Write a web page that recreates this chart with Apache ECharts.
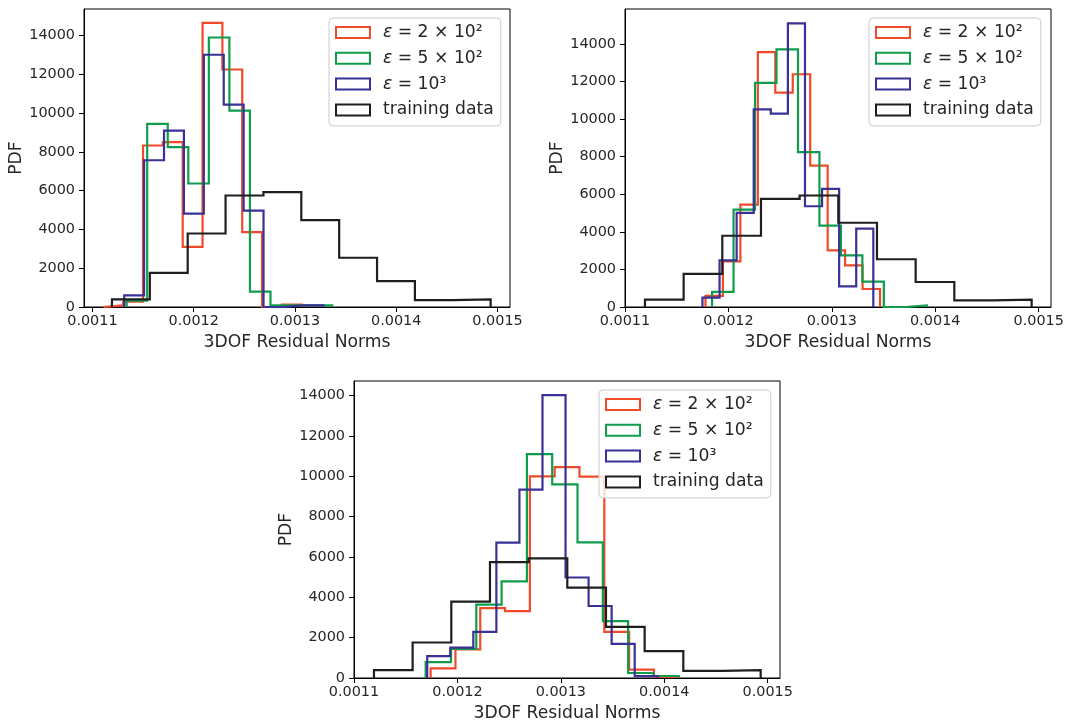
<!doctype html>
<html lang="en">
<head>
<meta charset="utf-8">
<title>3DOF Residual Norms</title>
<style>
  html, body { margin: 0; padding: 0; background: #fff; }
  #chart { width: 1072px; height: 723px; }
</style>
</head>
<body>
<div id="chart"></div>
<script src="https://cdn.jsdelivr.net/npm/echarts@6/dist/echarts.min.js"></script>
<script>
// series names / legend labels / colours
var seriesNames = ['eps200', 'eps500', 'eps1000', 'training data'];
var legendLabels = ['{e|ε} = 2 × 10²', '{e|ε} = 5 × 10²', '{e|ε} = 10³', 'training data'];
var colors = ['#f04a2a', '#0f9d4c', '#3a3196', '#1e1e1e'];

// training data histogram (same in all three panels)
var trainRange = [0.0011193, 0.0014932];
var trainCounts = [390, 1760, 3790, 5750, 5930, 4480, 2540, 1330, 355, 390];

// top-left panel: bin range and counts per epsilon
var tlRanges = [[0.0011108, 0.0013067], [0.0011338, 0.0013367], [0.0011314, 0.0013279]];
var tlRed = [80, 270, 8330, 8500, 3100, 14650, 12250, 3860, 0, 130];
var tlGreen = [330, 9450, 8250, 6370, 13900, 10130, 790, 80, 80, 80];
var tlBlue = [600, 7570, 9100, 4815, 13010, 10435, 4970, 0, 80, 80];

// top-right panel
var trRanges = [[0.0011778, 0.0013466], [0.0011842, 0.0013918], [0.0011749, 0.0013401]];
var trRed = [590, 2430, 5450, 13560, 11400, 12380, 7520, 3017, 2218, 958];
var trGreen = [800, 5180, 11925, 13700, 8234, 4330, 2751, 1349, 0, 85];
var trBlue = [500, 2485, 5005, 10506, 10290, 15084, 5359, 6282, 1100, 4170];

// bottom panel
var btRanges = [[0.0011741, 0.0014140], [0.0011693, 0.0014140], [0.0011708, 0.0013937]];
var btRed = [480, 1420, 3470, 3320, 10000, 10460, 9990, 2290, 420, 60];
var btGreen = [789, 1447, 3635, 4795, 11102, 9600, 6727, 2820, 247, 99];
var btBlue = [1080, 1510, 2290, 6711, 9342, 14030, 4984, 3570, 1694, 90];

// axis ticks and limits
var xTicks = [0.0011, 0.0012, 0.0013, 0.0014, 0.0015];
var yTicks = [0, 2000, 4000, 6000, 8000, 10000, 12000, 14000];
var xLimits = [[0.0010917, 0.0015123], [0.0011, 0.0015119], [0.0011, 0.0015119]];
var yMax = [15370, 15850, 14730];

var FONT = 'DejaVu Sans';
var TXT = '#262626';

// step outline of a histogram (like histtype='step')
function steps(range, counts) {
    var n = counts.length;
    var w = (range[1] - range[0]) / n;
    var pts = [[range[0], 0]];
    for (var i = 0; i < n; i++) {
        var x0 = range[0] + i * w;
        pts.push([x0, counts[i]]);
        pts.push([x0 + w, counts[i]]);
    }
    pts.push([range[1], 0]);
    return pts;
}

var panels = [
    { grid: { left: 84, top: 9, width: 426, height: 298 }, legend: { left: 329, top: 18 },
      ranges: tlRanges, counts: [tlRed, tlGreen, tlBlue] },
    { grid: { left: 625, top: 9, width: 426, height: 298 }, legend: { left: 869, top: 18 },
      ranges: trRanges, counts: [trRed, trGreen, trBlue] },
    { grid: { left: 354, top: 381, width: 426, height: 298 }, legend: { left: 599, top: 390 },
      ranges: btRanges, counts: [btRed, btGreen, btBlue] }
];

var grids = [], xAxes = [], yAxes = [], legends = [], series = [];

panels.forEach(function (p, k) {
    grids.push(Object.assign({ show: true, borderColor: '#000', borderWidth: 1, backgroundColor: '#fff' }, p.grid));
    xAxes.push({
        gridIndex: k, type: 'value', min: xLimits[k][0], max: xLimits[k][1],
        axisLine: { show: true, onZero: false, lineStyle: { color: '#000', width: 1 } },
        axisTick: { show: true, length: 5, customValues: xTicks, lineStyle: { color: '#000' } },
        axisLabel: {
            customValues: xTicks, margin: 7, fontSize: 14.4, fontFamily: FONT, color: TXT,
            formatter: function (v) { return v.toFixed(4); }
        },
        splitLine: { show: false },
        name: '3DOF Residual Norms', nameLocation: 'middle', nameGap: 27,
        nameTextStyle: { fontSize: 17.2, fontFamily: FONT, color: TXT }
    });
    yAxes.push({
        gridIndex: k, type: 'value', min: 0, max: yMax[k],
        axisLine: { show: true, lineStyle: { color: '#000', width: 1 } },
        axisTick: { show: true, length: 5, customValues: yTicks, lineStyle: { color: '#000' } },
        axisLabel: {
            customValues: yTicks, margin: 9, fontSize: 14.4, fontFamily: FONT, color: TXT,
            formatter: function (v) { return String(v); }
        },
        splitLine: { show: false },
        name: 'PDF', nameLocation: 'middle', nameGap: 54,
        nameTextStyle: { fontSize: 17.2, fontFamily: FONT, color: TXT }
    });
    legends.push({
        left: p.legend.left, top: p.legend.top, orient: 'vertical',
        icon: 'rect', itemWidth: 34, itemHeight: 11, itemGap: 5.8,
        padding: [4.5, 7, 6, 6],
        backgroundColor: 'rgba(255,255,255,0.8)', borderColor: '#cccccc', borderWidth: 1, borderRadius: 4,
        selectedMode: false,
        data: seriesNames.map(function (n, i) {
            return { name: n, itemStyle: { color: 'rgba(255,255,255,0)', borderColor: colors[i], borderWidth: 2 } };
        }),
        formatter: function (n) { return legendLabels[seriesNames.indexOf(n)]; },
        textStyle: {
            fontSize: 17.2, fontFamily: FONT, color: TXT, lineHeight: 20, padding: [0, 0, 0, 8],
            rich: { e: { fontStyle: 'italic', fontSize: 17.2, fontFamily: FONT, color: TXT, lineHeight: 20 } }
        }
    });
    var all = p.counts.map(function (c, i) { return steps(p.ranges[i], c); });
    all.push(steps(trainRange, trainCounts));
    all.forEach(function (pts, i) {
        series.push({
            name: seriesNames[i], type: 'line', xAxisIndex: k, yAxisIndex: k,
            data: pts, showSymbol: false, symbol: 'none', silent: true,
            lineStyle: { color: colors[i], width: 2.2, join: 'miter', cap: 'butt' },
            itemStyle: { color: colors[i] }
        });
    });
});

var chart = echarts.init(document.getElementById('chart'));
chart.setOption({
    animation: false,
    backgroundColor: '#fff',
    grid: grids,
    xAxis: xAxes,
    yAxis: yAxes,
    legend: legends,
    series: series
});
</script>
</body>
</html>
